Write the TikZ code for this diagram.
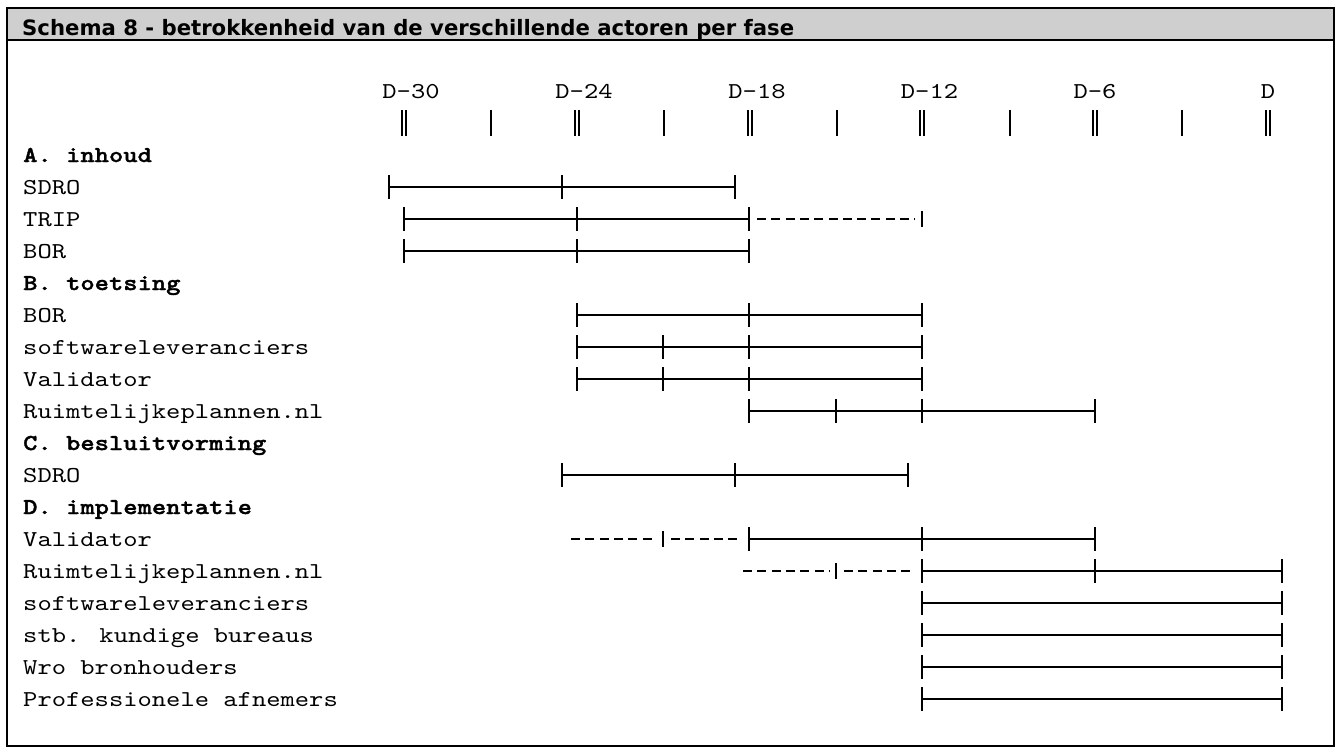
\documentclass[tikz,border=0pt]{standalone}
\usepackage{fontspec}
\newfontfamily\chartfont{lmmono10-regular}[Extension=.otf, BoldFont=lmmonolt10-bold, BoldFeatures={FakeBold=1.5}, FakeStretch=1.2]
\newfontfamily\titlefont{DejaVu Sans}

\tikzset{
  rowlabel/.style={anchor=base west, inner sep=0pt, font=\chartfont\fontsize{22.7}{24}\selectfont},
  grouplabel/.style={rowlabel, font=\chartfont\bfseries\fontsize{22.7}{24}\selectfont},
  timelabel/.style={anchor=base, inner sep=0pt, font=\chartfont\fontsize{22.7}{24}\selectfont},
  barline/.style={line width=2.2pt},
  planline/.style={line width=1.3pt, dash pattern=on 9pt off 5.3pt},
  plantick/.style={line width=1.3pt},
}

% one bar: row y, start x, further tick positions
\newcommand{\ganttbar}[3]{%
  \draw[barline] (#2,#1-12) -- (#2,#1+12);
  \foreach \x [remember=\x as \lastx (initially #2)] in {#3} {
    \draw[barline] (\lastx,#1) -- (\x,#1);
    \draw[barline] (\x,#1-12) -- (\x,#1+12);
  }
}

\begin{document}
\begin{tikzpicture}[x=1pt, y=-1pt]
    \useasboundingbox (0,0) rectangle (1342,755);

    % frame and title band
    \draw[fill=black!19, line width=1.2pt] (7,8) rectangle (1334,40);
    \draw[line width=1.2pt] (7,8) rectangle (1334,746);
    \node[anchor=base west, inner sep=0pt, font=\titlefont\bfseries\fontsize{21.2}{22}\selectfont]
      (title) at (22,35) {Schema 8 - betrokkenheid van de verschillende actoren per fase};

    % time axis
    \foreach \t/\x in {D-30/411, D-24/584, D-18/757, D-12/929.5, D-6/1095, D/1268}
      \node[timelabel] at (\x,98) {\t};
    \foreach \x in {404, 577, 750, 922, 1095, 1268} {
      \draw[line width=1.5pt] (\x-2,110) -- (\x-2,136);
      \draw[line width=1.5pt] (\x+2,110) -- (\x+2,136);
    }
    \foreach \x in {490.5, 663.5, 836.5, 1009.5, 1181.5}
      \draw[line width=2pt] (\x,110) -- (\x,136);

    % row labels
    \node[grouplabel] at (23,162) {A. inhoud};
    \node[rowlabel] at (23,194) {SDRO};
    \node[rowlabel] at (23,226) {TRIP};
    \node[rowlabel] at (23,258) {BOR};
    \node[grouplabel] at (23,290) {B. toetsing};
    \node[rowlabel] at (23,322) {BOR};
    \node[rowlabel] at (23,354) {softwareleveranciers};
    \node[rowlabel] at (23,386) {Validator};
    \node[rowlabel] at (23,418) {Ruimtelijkeplannen.nl};
    \node[grouplabel] at (23,450) {C. besluitvorming};
    \node[rowlabel] at (23,482) {SDRO};
    \node[grouplabel] at (23,514) {D. implementatie};
    \node[rowlabel] at (23,546) {Validator};
    \node[rowlabel] at (23,578) {Ruimtelijkeplannen.nl};
    \node[rowlabel] at (23,610) {softwareleveranciers};
    \node[rowlabel] at (23,642) {stb. kundige bureaus};
    \node[rowlabel] at (23,674) {Wro bronhouders};
    \node[rowlabel] at (23,706) {Professionele afnemers};

    % A. inhoud
    \ganttbar{187}{389}{562, 735}
    \ganttbar{219}{404}{577, 749}
    \draw[planline] (757,219) -- (915,219);
    \draw[plantick] (922,211) -- (922,227);
    \ganttbar{251}{404}{577, 749}

    % B. toetsing
    \ganttbar{315}{577}{749, 922}
    \ganttbar{347}{577}{663, 749, 922}
    \ganttbar{379}{577}{663, 749, 922}
    \ganttbar{411}{749}{836, 922, 1095}

    % C. besluitvorming
    \ganttbar{475}{562}{735, 908}

    % D. implementatie
    \draw[planline] (571,539) -- (656,539);
    \draw[plantick] (663,531) -- (663,547);
    \draw[planline] (671,539) -- (742,539);
    \ganttbar{539}{749}{922, 1095}
    \draw[planline] (743,571) -- (829,571);
    \draw[plantick] (836,563) -- (836,579);
    \draw[planline] (844,571) -- (915,571);
    \ganttbar{571}{922}{1095, 1282}
    \ganttbar{603}{922}{1282}
    \ganttbar{635}{922}{1282}
    \ganttbar{667}{922}{1282}
    \ganttbar{699}{922}{1282}
\end{tikzpicture}
\end{document}
